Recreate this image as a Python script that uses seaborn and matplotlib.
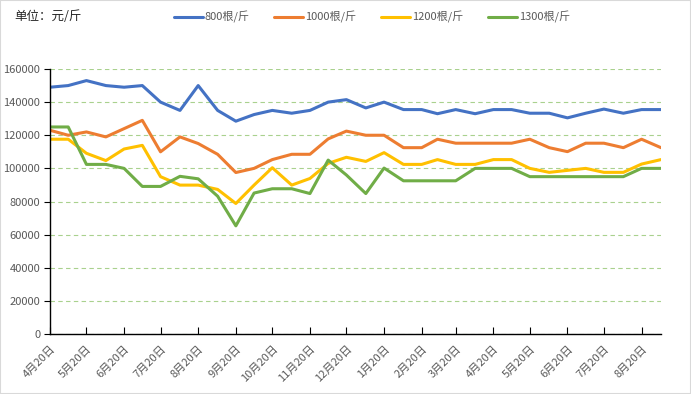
import seaborn as sns
import matplotlib.pyplot as plt
import matplotlib.ticker as mticker
from matplotlib.patches import Rectangle
import pandas as pd

# sampling dates: 20th and 5th of each month, 2022-04-20 .. 2023-09-05
dates = []
for y, m in [(2022, mo) for mo in range(4, 13)] + [(2023, mo) for mo in range(1, 10)]:
    for d in (5, 20):
        dt = pd.Timestamp(y, m, d)
        if pd.Timestamp(2022, 4, 20) <= dt <= pd.Timestamp(2023, 9, 5):
            dates.append(dt)

series_names = ['800根/斤', '1000根/斤', '1200根/斤', '1300根/斤']
colors = ['#4472C4', '#ED7D31', '#FFC000', '#70AD47']

p800 = [149000, 150000, 153000, 150000, 149000, 150000, 140000, 135000, 150000,
        135000, 128500, 132500, 135000, 133300, 135000, 140000, 141500, 136500,
        140000, 135500, 135500, 133000, 135500, 133000, 135500, 135500, 133300,
        133300, 130500, 133300, 135800, 133300, 135500, 135500]
p1000 = [123000, 120000, 122000, 119000, 124000, 129000, 110000, 119000, 115000,
         108500, 97500, 100000, 105300, 108500, 108500, 117800, 122500, 120000,
         120000, 112500, 112500, 117600, 115200, 115200, 115200, 115200, 117600,
         112500, 110100, 115200, 115200, 112500, 117600, 112500]
p1200 = [117600, 117600, 109100, 104700, 111700, 113900, 95000, 89900, 89900,
         87300, 78800, 89900, 100400, 89900, 93900, 103000, 106700, 104200,
         109500, 102400, 102400, 105300, 102400, 102400, 105300, 105300, 100000,
         97600, 98800, 100000, 97600, 97600, 102600, 105300]
p1300 = [125000, 125000, 102400, 102400, 100000, 89100, 89100, 95200, 93700,
         83200, 65300, 85100, 87700, 87700, 84800, 105000, 96000, 84800,
         100200, 92500, 92500, 92500, 92500, 100000, 100000, 100000, 95000,
         95000, 95000, 95000, 95000, 95000, 100000, 100000]

tick_months = [4, 5, 6, 7, 8, 9, 10, 11, 12, 1, 2, 3, 4, 5, 6, 7, 8]
tick_years = [2022] * 9 + [2023] * 8

df = pd.DataFrame({'date': dates, series_names[0]: p800, series_names[1]: p1000,
                   series_names[2]: p1200, series_names[3]: p1300})
df = df.melt(id_vars='date', var_name='series', value_name='price')

sns.set_theme(style="white")
plt.rcParams['font.family'] = ['Noto Sans CJK SC', 'DejaVu Sans']

fig = plt.figure(figsize=(6.91, 3.94), dpi=100)
ax = fig.add_axes([50 / 691, 1 - 334 / 394, 611 / 691, 265 / 394])

sns.lineplot(data=df, x='date', y='price', hue='series', hue_order=series_names,
             palette=colors, linewidth=2.2, ax=ax, legend=False)

ax.set_ylim(0, 160000)
ax.set_yticks(range(0, 160001, 20000))
ax.yaxis.set_major_formatter(mticker.FuncFormatter(lambda v, p: f'{int(v)}'))
ax.set_xlim(dates[0], dates[-1])
ticks = [pd.Timestamp(y, m, 20) for y, m in zip(tick_years, tick_months)]
ax.set_xticks(ticks)
ax.set_xticklabels([f'{m}月20日' for m in tick_months], rotation=45,
                   ha='right', rotation_mode='anchor')
ax.set_xlabel('')
ax.set_ylabel('')

ax.yaxis.grid(True, color='#a9d18e', linestyle=(0, (4, 3)), linewidth=0.8)
ax.xaxis.grid(False)
ax.set_axisbelow(True)
for s in ['top', 'right']:
    ax.spines[s].set_visible(False)
for s in ['left', 'bottom']:
    ax.spines[s].set_color('black')
    ax.spines[s].set_linewidth(1)

ax.tick_params(axis='y', direction='out', length=4, width=0.8, color='black',
               labelcolor='#595959', labelsize=8, pad=3, left=True)
ax.tick_params(axis='x', direction='in', length=5, width=0.8, color='black',
               labelcolor='#595959', labelsize=8, pad=7, bottom=True)

handles = ax.get_lines()[:4]
fig.legend(handles, series_names, loc='center', bbox_to_anchor=(0.538, 1 - 17 / 394),
           ncol=4, frameon=False, fontsize=8, handlelength=2.6, handletextpad=0.2,
           columnspacing=2.2, labelcolor='#595959')

fig.text(14 / 691, 1 - 17 / 394, '单位：元/斤', fontsize=9, va='center',
         color='#262626')
fig.patches.append(Rectangle((0, 0), 1, 1, transform=fig.transFigure, fill=False,
                             edgecolor='#d9d9d9', linewidth=1.5))

fig.savefig('out.png', dpi=100)
